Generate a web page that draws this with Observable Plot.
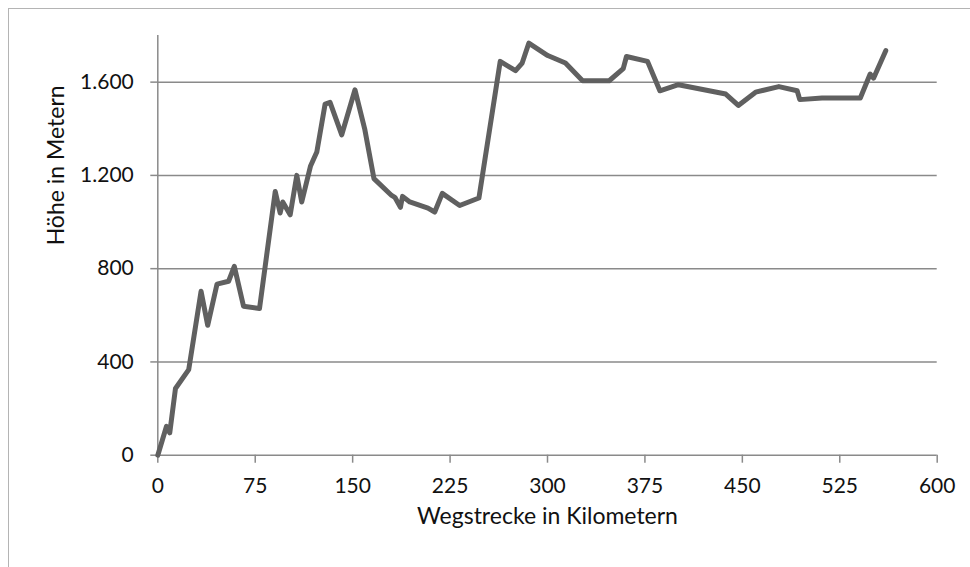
<!DOCTYPE html>
<html>
<head>
<meta charset="utf-8">
<script src="https://cdn.jsdelivr.net/npm/d3@7"></script>
<script src="https://cdn.jsdelivr.net/npm/@observablehq/plot@0.6"></script>
<style>
  html, body { margin: 0; padding: 0; background: #fff; }
  #wrap { position: relative; width: 970px; height: 567px; overflow: hidden; }
  #frame { position: absolute; left: 8px; top: 8px; width: 2000px; height: 2000px;
           border-left: 1.5px solid #b4b4b4; border-top: 1.5px solid #b4b4b4; pointer-events: none; }
  #chart { position: absolute; left: 0; top: 0; }
</style>
</head>
<body>
<div id="wrap"><div id="chart"></div><div id="frame"></div></div>
<script>
const km = [0, 6.7, 9.2, 13.6, 23.8, 33.3, 38.4, 45.6, 54.5, 58.9, 66, 78.3, 90.4, 94.2, 96.2, 101.9, 107, 110.8, 117.5, 122.4, 128.8, 132.6, 141.6, 151.8, 159.4, 166.4, 180, 182.5, 186.8, 188.4, 194, 208, 213.2, 219, 232.4, 247.2, 263.6, 275.4, 280.5, 285.6, 300.2, 313.8, 327, 347.5, 358.3, 360.8, 377, 386.5, 400.8, 437.2, 446.9, 460.2, 478.1, 492.2, 494.2, 511.3, 540.8, 548.4, 551, 560.4];
const hoehe = [0, 124, 96, 286, 367, 703, 557, 734, 746, 810, 639, 629, 1131, 1039, 1086, 1031, 1200, 1086, 1239, 1300, 1506, 1513, 1374, 1567, 1396, 1186, 1114, 1106, 1063, 1110, 1086, 1060, 1043, 1123, 1071, 1103, 1689, 1649, 1682, 1767, 1714, 1682, 1606, 1606, 1658, 1710, 1689, 1563, 1589, 1549, 1500, 1557, 1581, 1563, 1525, 1532, 1532, 1635, 1617, 1735];
const xTicks = [0, 75, 150, 225, 300, 375, 450, 525, 600];
const yTicks = [0, 400, 800, 1200, 1600];
const yGrid = [400, 800, 1200, 1600];
const xTitle = "Wegstrecke in Kilometern";
const yTitle = "Höhe in Metern";

const data = km.map((k, i) => ({km: k, h: hoehe[i]}));
const de = d3.formatLocale({decimal: ",", thousands: ".", grouping: [3], currency: ["", " €"]}).format(",");
const font = "Lato, 'Open Sans', sans-serif";
const axisColor = "#8a8a8a";

const plot = Plot.plot({
  width: 970,
  height: 567,
  marginLeft: 157.3,
  marginRight: 33.3,
  marginTop: 35,
  marginBottom: 112.3,
  style: {fontFamily: font, fontSize: "21px", color: "#111", background: "transparent"},
  x: {domain: [0, 600]},
  y: {domain: [0, 1800]},
  marks: [
    Plot.ruleY(yGrid, {stroke: axisColor, strokeWidth: 1.5}),
    Plot.ruleY([0], {stroke: axisColor, strokeWidth: 1.5}),
    Plot.ruleX([0], {stroke: axisColor, strokeWidth: 1.5}),
    Plot.axisX({ticks: xTicks, tickSize: 8, tickPadding: 15, stroke: axisColor, strokeWidth: 1.5,
                fill: "#111", label: null, tickFormat: d => String(d)}),
    Plot.axisY({ticks: yTicks, tickSize: 7, tickPadding: 17, stroke: axisColor, strokeWidth: 1.5,
                fill: "#111", label: null, tickFormat: de}),
    Plot.line(data, {x: "km", y: "h", stroke: "#606060", strokeWidth: 5,
                     strokeLinejoin: "round", strokeLinecap: "round"}),
    Plot.text([xTitle], {text: d => d, frameAnchor: "bottom", dy: 69, fill: "#111", fontSize: 23}),
    Plot.text([yTitle], {text: d => d, frameAnchor: "left", dx: -101, rotate: -90, fill: "#111", fontSize: 23})
  ]
});
document.getElementById("chart").appendChild(plot);
</script>
</body>
</html>
